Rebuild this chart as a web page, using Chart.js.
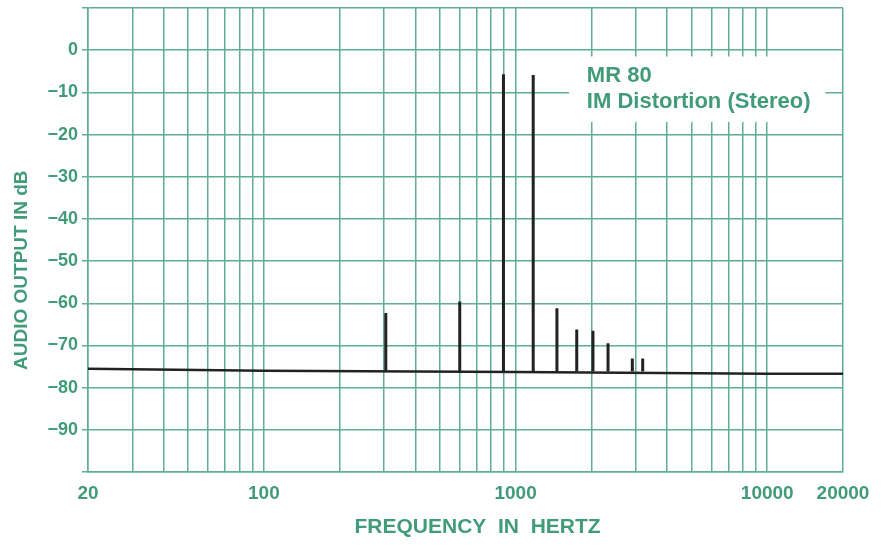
<!DOCTYPE html>
<html>
<head>
<meta charset="utf-8">
<script src="https://cdn.jsdelivr.net/npm/chart.js@4/dist/chart.umd.min.js"></script>
<style>
  html, body { margin: 0; padding: 0; background: #ffffff; }
  #wrap { width: 885px; height: 546px; }
</style>
</head>
<body>
<div id="wrap"><canvas id="imChart"></canvas></div>
<script>

/******************* DATA *******************/
// noise floor of the analyser trace
const baseFreqs  = [20, 100, 1000, 10000, 20000];
const baseLevels = [-75.5, -76.0, -76.3, -76.7, -76.7];

// IM distortion products (frequency in Hz, peak in dB)
const spikeFreqs  = [305, 600, 895, 1175, 1460, 1750, 2030, 2330, 2910, 3200];
const spikeLevels = [-62.3, -59.6, -5.7, -5.9, -61.2, -66.2, -66.5, -69.5, -73.1, -73.1];
const spikeFloor  = -76.2;

// axis ticks
const xGridValues = [20, 30, 40, 50, 60, 70, 80, 90,
                     100, 200, 300, 400, 500, 600, 700, 800, 900,
                     1000, 2000, 3000, 4000, 5000, 6000, 7000, 8000, 9000,
                     10000, 20000];
const xTickLabels = [20, 100, 1000, 10000, 20000];
const yTickLabels = [0, -10, -20, -30, -40, -50, -60, -70, -80, -90];

const titleLines = ['MR 80', 'IM Distortion (Stereo)'];
const xTitle = 'FREQUENCY  IN  HERTZ';
const yTitle = 'AUDIO OUTPUT IN dB';

/******************* STYLE *******************/
const green     = '#419b79';
const gridGreen = '#5fae8f';
const ink       = '#222222';
const fontFam   = '"Liberation Sans", Arial, sans-serif';

/******************* BUILD *******************/
const basePoints = baseFreqs.map((f, i) => ({ x: f, y: baseLevels[i] }));

// each spike is a vertical stroke from the floor to its peak, then a gap
const spikePoints = [];
spikeFreqs.forEach((f, i) => {
    spikePoints.push({ x: f, y: spikeFloor });
    spikePoints.push({ x: f, y: spikeLevels[i] });
    spikePoints.push({ x: f, y: null });
});

// white label box with the chart title, drawn over the grid
const titleBox = {
    id: 'titleBox',
    beforeDatasetsDraw(chart) {
        const ctx = chart.ctx;
        const xs = chart.scales.x;
        const ys = chart.scales.y;
        const left = xs.getPixelForValue(1630);
        const right = xs.getPixelForValue(17000);
        const top = ys.getPixelForValue(-1.5);
        const bottom = ys.getPixelForValue(-17);
        ctx.save();
        ctx.fillStyle = '#ffffff';
        ctx.fillRect(left, top, right - left, bottom - top);
        ctx.fillStyle = green;
        ctx.font = 'bold 22px ' + fontFam;
        ctx.textBaseline = 'middle';
        ctx.textAlign = 'left';
        const tx = xs.getPixelForValue(1920);
        ctx.fillText(titleLines[0], tx, ys.getPixelForValue(-6.2));
        ctx.fillText(titleLines[1], tx, ys.getPixelForValue(-12.3));
        ctx.restore();
    },
    // axis titles, placed where the original print has them
    afterDraw(chart) {
        const ctx = chart.ctx;
        const area = chart.chartArea;
        ctx.save();
        ctx.fillStyle = green;
        ctx.textAlign = 'center';
        ctx.textBaseline = 'middle';
        ctx.font = 'bold 21px ' + fontFam;
        ctx.fillText(xTitle, area.left + (area.right - area.left) * 0.516, 527);
        ctx.translate(22, area.top + (area.bottom - area.top) * 0.565);
        ctx.rotate(-Math.PI / 2);
        ctx.font = 'bold 19px ' + fontFam;
        ctx.fillText(yTitle, 0, 0);
        ctx.restore();
    }
};

const data = {
    datasets: [
        {
            label: 'floor',
            data: basePoints,
            borderColor: ink,
            borderWidth: 2.5,
            pointRadius: 0,
            tension: 0
        },
        {
            label: 'products',
            data: spikePoints,
            borderColor: ink,
            borderWidth: 3,
            pointRadius: 0,
            spanGaps: false,
            borderCapStyle: 'butt'
        }
    ]
};

const options = {
    responsive: true,
    maintainAspectRatio: false,
    animation: false,
    layout: { padding: { left: 0, right: 42, top: 8, bottom: 0 } },
    plugins: {
        legend: { display: false },
        tooltip: { enabled: false }
    },
    scales: {
        x: {
            type: 'logarithmic',
            min: 20,
            max: 20000,
            afterBuildTicks: (scale) => {
                scale.ticks = xGridValues.map(v => ({ value: v }));
            },
            afterFit: (scale) => { scale.height = 74; },
            grid: { color: gridGreen, lineWidth: 1.5, drawTicks: false },
            border: { color: gridGreen, width: 1.5 },
            ticks: {
                autoSkip: false,
                maxRotation: 0,
                padding: 10,
                color: green,
                font: { family: fontFam, size: 19, weight: 'bold' },
                callback: (value) => xTickLabels.includes(value) ? String(value) : ''
            }
        },
        y: {
            min: -100,
            max: 10,
            afterFit: (scale) => {
                scale.width = 88;
                scale.paddingTop = 0;
                scale.paddingBottom = 0;
            },
            grid: { color: gridGreen, lineWidth: 1.5, tickLength: 6 },
            border: { color: gridGreen, width: 1.5 },
            ticks: {
                stepSize: 10,
                padding: 4,
                color: green,
                font: { family: fontFam, size: 18, weight: 'bold' },
                callback: (value) => yTickLabels.includes(value)
                    ? (value < 0 ? '\u2212' + Math.abs(value) : String(value))
                    : ''
            }
        }
    }
};

// Get the canvas element and create the chart
const canvas = document.getElementById('imChart').getContext('2d');
const imChart = new Chart(canvas, {
    type: 'line',
    data: data,
    options: options,
    plugins: [titleBox]
});
</script>
</body>
</html>
